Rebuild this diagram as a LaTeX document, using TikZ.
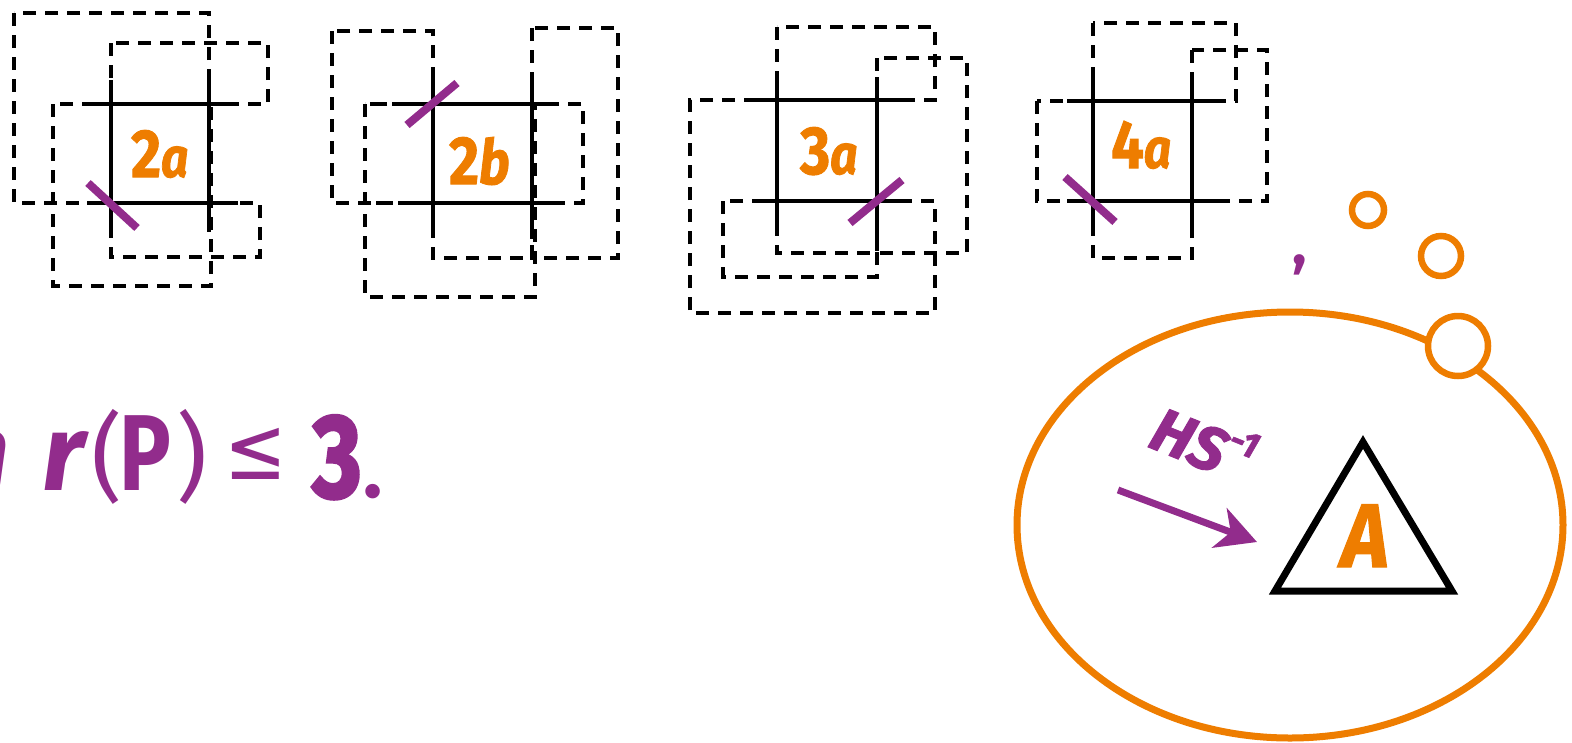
\documentclass[tikz,border=0pt]{standalone}
\usepackage{fontspec}
\setmainfont{Fira Sans}
\newfontfamily\symfont{DejaVu Sans}
\usetikzlibrary{arrows.meta}
\definecolor{myorange}{RGB}{238,125,0}
\definecolor{mypurple}{RGB}{146,44,140}
\tikzset{
  gridline/.style={line width=4.6pt, line cap=butt},
  dashbox/.style={line width=4.2pt, dash pattern=on 13pt off 9pt},
  tickmark/.style={line width=8pt, draw=mypurple},
  lab/.style={anchor=base west, inner sep=0pt, text=myorange, font=\bfseries\addfontfeature{FakeBold=1.5}, xscale=0.85},
  ptxt/.style={anchor=base, inner sep=0pt, text=mypurple},
  bubble/.style={circle, draw=myorange, line width=6.5pt, fill=white, inner sep=0pt},
}
\begin{document}
\begin{tikzpicture}[x=1pt,y=-1pt]
\useasboundingbox (0,0) rectangle (1572,742);

% ---------- 2a ----------
\draw[dashbox] (14,13) rectangle (209,203);
\draw[dashbox] (111,43) rectangle (268,104);
\draw[dashbox] (53,104) rectangle (211,286);
\draw[dashbox] (111,203) rectangle (260,257);
\draw[gridline] (111,80) -- (111,232) (209,80) -- (209,232)
                (87,104) -- (238,104) (87,203) -- (238,203);
\draw[tickmark] (88,183) -- (137,228);
\node[lab] (l2a) at (131,177) {\fontsize{68}{68}\selectfont 2\fontsize{56}{56}\selectfont\itshape a};

% ---------- 2b ----------
\draw[dashbox] (332,31) rectangle (433,203);
\draw[dashbox] (365,104) rectangle (583,203);
\draw[dashbox] (365,104) rectangle (535,297);
\draw[dashbox] (532,28) rectangle (618,258);
\draw[dashbox] (433,203) rectangle (532,258);
\draw[gridline] (433,78) -- (433,232) (532,78) -- (532,232)
                (408,104) -- (558,104) (408,203) -- (558,203);
\draw[tickmark] (407,125) -- (457,83);
\node[lab] (l2b) at (449,184) {\fontsize{68}{68}\selectfont 2\fontsize{62}{62}\selectfont\itshape b};

% ---------- 3a ----------
\draw[dashbox] (777,27) rectangle (935,100);
\draw[dashbox] (877,58) rectangle (967,253);
\draw[dashbox] (777,201) rectangle (877,253);
\draw[dashbox] (877,201) -- (935,201) -- (935,313) -- (690,313) -- (690,100) -- (777,100);
\draw[dashbox] (723,201) rectangle (877,277);
\draw[gridline] (777,77) -- (777,230) (877,77) -- (877,230)
                (753,100) -- (902,100) (753,201) -- (902,201);
\draw[tickmark] (850,223) -- (902,180);
\node[lab] (l3a) at (800,174) {\fontsize{68}{68}\selectfont 3\fontsize{56}{56}\selectfont\itshape a};

% ---------- 4a ----------
\draw[dashbox] (1093,23) rectangle (1236,101);
\draw[dashbox] (1192,50) rectangle (1267,201);
\draw[dashbox] (1037,101) rectangle (1093,201);
\draw[dashbox] (1093,201) rectangle (1192,258);
\draw[gridline] (1093,77) -- (1093,228) (1192,77) -- (1192,228)
                (1067,101) -- (1218,101) (1067,201) -- (1218,201);
\draw[tickmark] (1065,177) -- (1115,222);
\node[lab] (l4a) at (1111,168) {\fontsize{68}{68}\selectfont 4\fontsize{56}{56}\selectfont\itshape a};

% ---------- formula ----------
\node[ptxt, anchor=base east] (tn) at (10,490) {\fontsize{108}{108}\selectfont\bfseries\itshape n};
\node[ptxt] (tr) at (64,490) {\fontsize{108}{108}\selectfont\bfseries\itshape r};
\node[ptxt] (tlp) at (107,490) {\fontsize{96}{96}\selectfont (};
\node[ptxt, xscale=0.8] (tP) at (145,490) {\fontsize{108}{108}\selectfont\bfseries P};
\node[ptxt] (trp) at (192,490) {\fontsize{96}{96}\selectfont )};
\node[ptxt, anchor=center, xscale=0.85] (tle) at (256,454) {\fontsize{88}{88}\selectfont\symfont ≤};
\node[ptxt, xscale=0.8] (t3) at (337,497) {\fontsize{118}{118}\selectfont\bfseries\addfontfeature{FakeBold=3}3};
\node[ptxt] (tdot) at (373,497) {\fontsize{80}{80}\selectfont\bfseries .};

% ---------- thought bubble ----------
\node[ptxt] (comma) at (1300,264) {\fontsize{60}{60}\selectfont\bfseries ,};
\draw[myorange, line width=7pt] (1290,525) ellipse [x radius=273pt, y radius=213pt];
\node[bubble, minimum size=60pt] (b3) at (1458,346) {};
\node[bubble, minimum size=40pt] (b2) at (1441,256) {};
\node[bubble, minimum size=32pt] (b1) at (1368,210) {};

\draw[line width=7pt, line join=miter] (1363,442) -- (1275,591) -- (1452,591) -- cycle;
\node[anchor=base, inner sep=0pt, text=myorange, xscale=0.9] (A) at (1365,567)
  {\fontsize{90}{90}\selectfont\bfseries\itshape\addfontfeature{FakeBold=1.5}A};

\coordinate (arrS) at (1118,490);
\coordinate (arrE) at (1257,542);
\draw[mypurple, line width=7pt, -{Stealth[length=40pt, width=42pt, inset=12pt]}] (arrS) -- (arrE);
\node[text=mypurple, rotate=-22, inner sep=0pt] (hs) at (1204,442)
  {\fontsize{62}{62}\selectfont\bfseries\itshape\addfontfeature{FakeBold=1.5}HS\raisebox{0.45em}{\fontsize{36}{36}\selectfont -1}};
\end{tikzpicture}
\end{document}
